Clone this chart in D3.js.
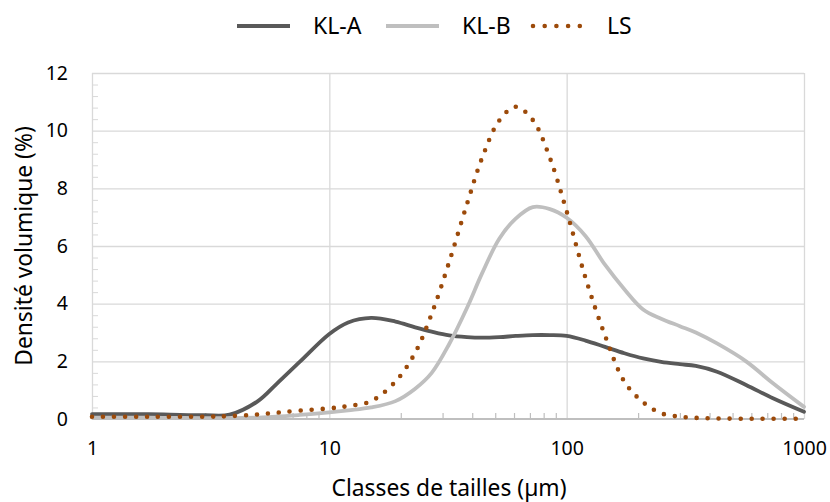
<!DOCTYPE html>
<html><head><meta charset="utf-8">
<script src="https://cdn.jsdelivr.net/npm/d3@7"></script>
<style>
html,body{margin:0;padding:0;background:#fff;}
svg text{font-family:"Noto Sans",sans-serif;fill:#000;}
</style></head>
<body><svg id="chart" width="830" height="502"></svg>
<script>
const sizes = [1, 1.5, 2, 3, 3.8, 5, 6, 7.5, 10, 12, 15, 19, 23, 27, 32, 38, 44, 52, 61, 72, 85, 100, 120, 145, 175, 210, 250, 300, 350, 430, 570, 740, 1000];
const klA = [0.17, 0.17, 0.16, 0.13, 0.15, 0.62, 1.22, 1.98, 2.95, 3.35, 3.51, 3.38, 3.18, 3.03, 2.9, 2.84, 2.82, 2.84, 2.88, 2.91, 2.91, 2.88, 2.72, 2.5, 2.28, 2.1, 1.98, 1.9, 1.84, 1.64, 1.18, 0.72, 0.25];
const klB = [0.05, 0.05, 0.04, 0.03, 0.03, 0.05, 0.08, 0.14, 0.23, 0.3, 0.4, 0.62, 1.05, 1.6, 2.6, 3.85, 5.05, 6.25, 6.95, 7.35, 7.28, 6.98, 6.35, 5.35, 4.5, 3.8, 3.48, 3.22, 3.0, 2.62, 2.0, 1.24, 0.42];
const ls  = [0.08, 0.08, 0.08, 0.08, 0.1, 0.16, 0.22, 0.29, 0.37, 0.45, 0.62, 1.3, 2.3, 3.65, 5.45, 7.45, 9.05, 10.35, 10.83, 10.37, 9.05, 7.2, 4.9, 2.9, 1.3, 0.58, 0.2, 0.08, 0.04, 0.02, 0.01, 0.01, 0.01];
const seriesNames = ["KL-A", "KL-B", "LS"];
const yTicks = [0, 2, 4, 6, 8, 10, 12];
const xTicks = [1, 10, 100, 1000];
const xTickLabels = ["1", "10", "100", "1000"];
const xTitle = "Classes de tailles (µm)";
const yTitle = "Densité volumique (%)";

const svg = d3.select("#chart");
const L = 92, R = 804, T = 73, B = 419;
const x = d3.scaleLog().domain([1, 1000]).range([L, R]);
const y = d3.scaleLinear().domain([0, 12]).range([B, T]);

const grid = "#d9d9d9";
svg.append("g").attr("transform", `translate(${L},0)`)
  .call(d3.axisLeft(y).tickValues(yTicks.filter(v => v > 0)).tickSize(-(R - L)).tickFormat(""))
  .call(g => g.select(".domain").remove())
  .call(g => g.selectAll("line").attr("stroke", grid).attr("stroke-width", 1.3));
svg.append("g").attr("transform", `translate(0,${B})`)
  .call(d3.axisBottom(x).tickValues(xTicks).tickSize(-(B - T)).tickFormat(""))
  .call(g => g.select(".domain").remove())
  .call(g => g.selectAll("line").attr("stroke", grid).attr("stroke-width", 1.3));
const yMinor = d3.range(0, 12.001, 0.4).filter(v => Math.abs(v / 2 - Math.round(v / 2)) > 1e-6);
svg.append("g").attr("transform", `translate(${L},0)`)
  .call(d3.axisLeft(y).tickValues(yMinor).tickSize(-6).tickFormat(""))
  .call(g => g.select(".domain").remove())
  .call(g => g.selectAll("line").attr("stroke", grid).attr("stroke-width", 1));
const xMinor = [];
[1, 10, 100].forEach(d => { for (let k = 2; k <= 9; k++) xMinor.push(d * k); });
svg.append("g").attr("transform", `translate(0,${B})`)
  .call(d3.axisBottom(x).tickValues(xMinor).tickSize(-6).tickFormat(""))
  .call(g => g.select(".domain").remove())
  .call(g => g.selectAll("line").attr("stroke", "#bfbfbf").attr("stroke-width", 1.2));
svg.append("line").attr("x1", L).attr("x2", R).attr("y1", B).attr("y2", B)
  .attr("stroke", "#bfbfbf").attr("stroke-width", 2);

svg.append("g").attr("transform", `translate(${L},0)`)
  .call(d3.axisLeft(y).tickValues(yTicks).tickSize(0).tickPadding(24).tickFormat(d3.format("d")))
  .call(g => g.select(".domain").remove())
  .call(g => g.selectAll("text").attr("font-size", "19.5px").attr("font-family", "Noto Sans").attr("fill", "#000"));
svg.append("g").attr("transform", `translate(0,${B})`)
  .call(d3.axisBottom(x).tickValues(xTicks).tickSize(0).tickPadding(22).tickFormat((d, i) => xTickLabels[i]))
  .call(g => g.select(".domain").remove())
  .call(g => g.selectAll("text").attr("font-size", "19.5px").attr("font-family", "Noto Sans").attr("fill", "#000"));

svg.append("text").attr("x", 449).attr("y", 496).attr("text-anchor", "middle")
  .attr("font-size", "22.8px").text(xTitle);
svg.append("text").attr("transform", "translate(32,246) rotate(-90)").attr("text-anchor", "middle")
  .attr("font-size", "22.8px").text(yTitle);

const styles = [
  { data: klA, color: "#595959", width: 3.8, dash: null },
  { data: klB, color: "#bfbfbf", width: 3.8, dash: null },
  { data: ls,  color: "#9c4a0a", width: 4.6, dash: "0 11" }
];
const line = d3.line().x(d => x(d[0])).y(d => y(d[1])).curve(d3.curveCatmullRom.alpha(0.5));
styles.forEach(s => {
  svg.append("path").datum(sizes.map((v, i) => [v, s.data[i]]))
    .attr("d", line).attr("fill", "none").attr("stroke", s.color)
    .attr("stroke-width", s.width).attr("stroke-linecap", "round").attr("stroke-linejoin", "round")
    .attr("stroke-dasharray", s.dash);
});

const legX = [237, 386, 533];
const legend = svg.append("g");
styles.forEach((s, i) => {
  const lx = legX[i];
  legend.append("line").attr("x1", lx).attr("x2", lx + (i === 2 ? 47 : 53)).attr("y1", 26).attr("y2", 26)
    .attr("stroke", s.color).attr("stroke-width", i === 2 ? 4.6 : 4)
    .attr("stroke-linecap", i === 2 ? "round" : "butt")
    .attr("stroke-dasharray", i === 2 ? "0 11.7" : null);
  legend.append("text").attr("x", lx + (i === 2 ? 74 : 76)).attr("y", 34)
    .attr("font-size", "23px").text(seriesNames[i]);
});
</script></body></html>
